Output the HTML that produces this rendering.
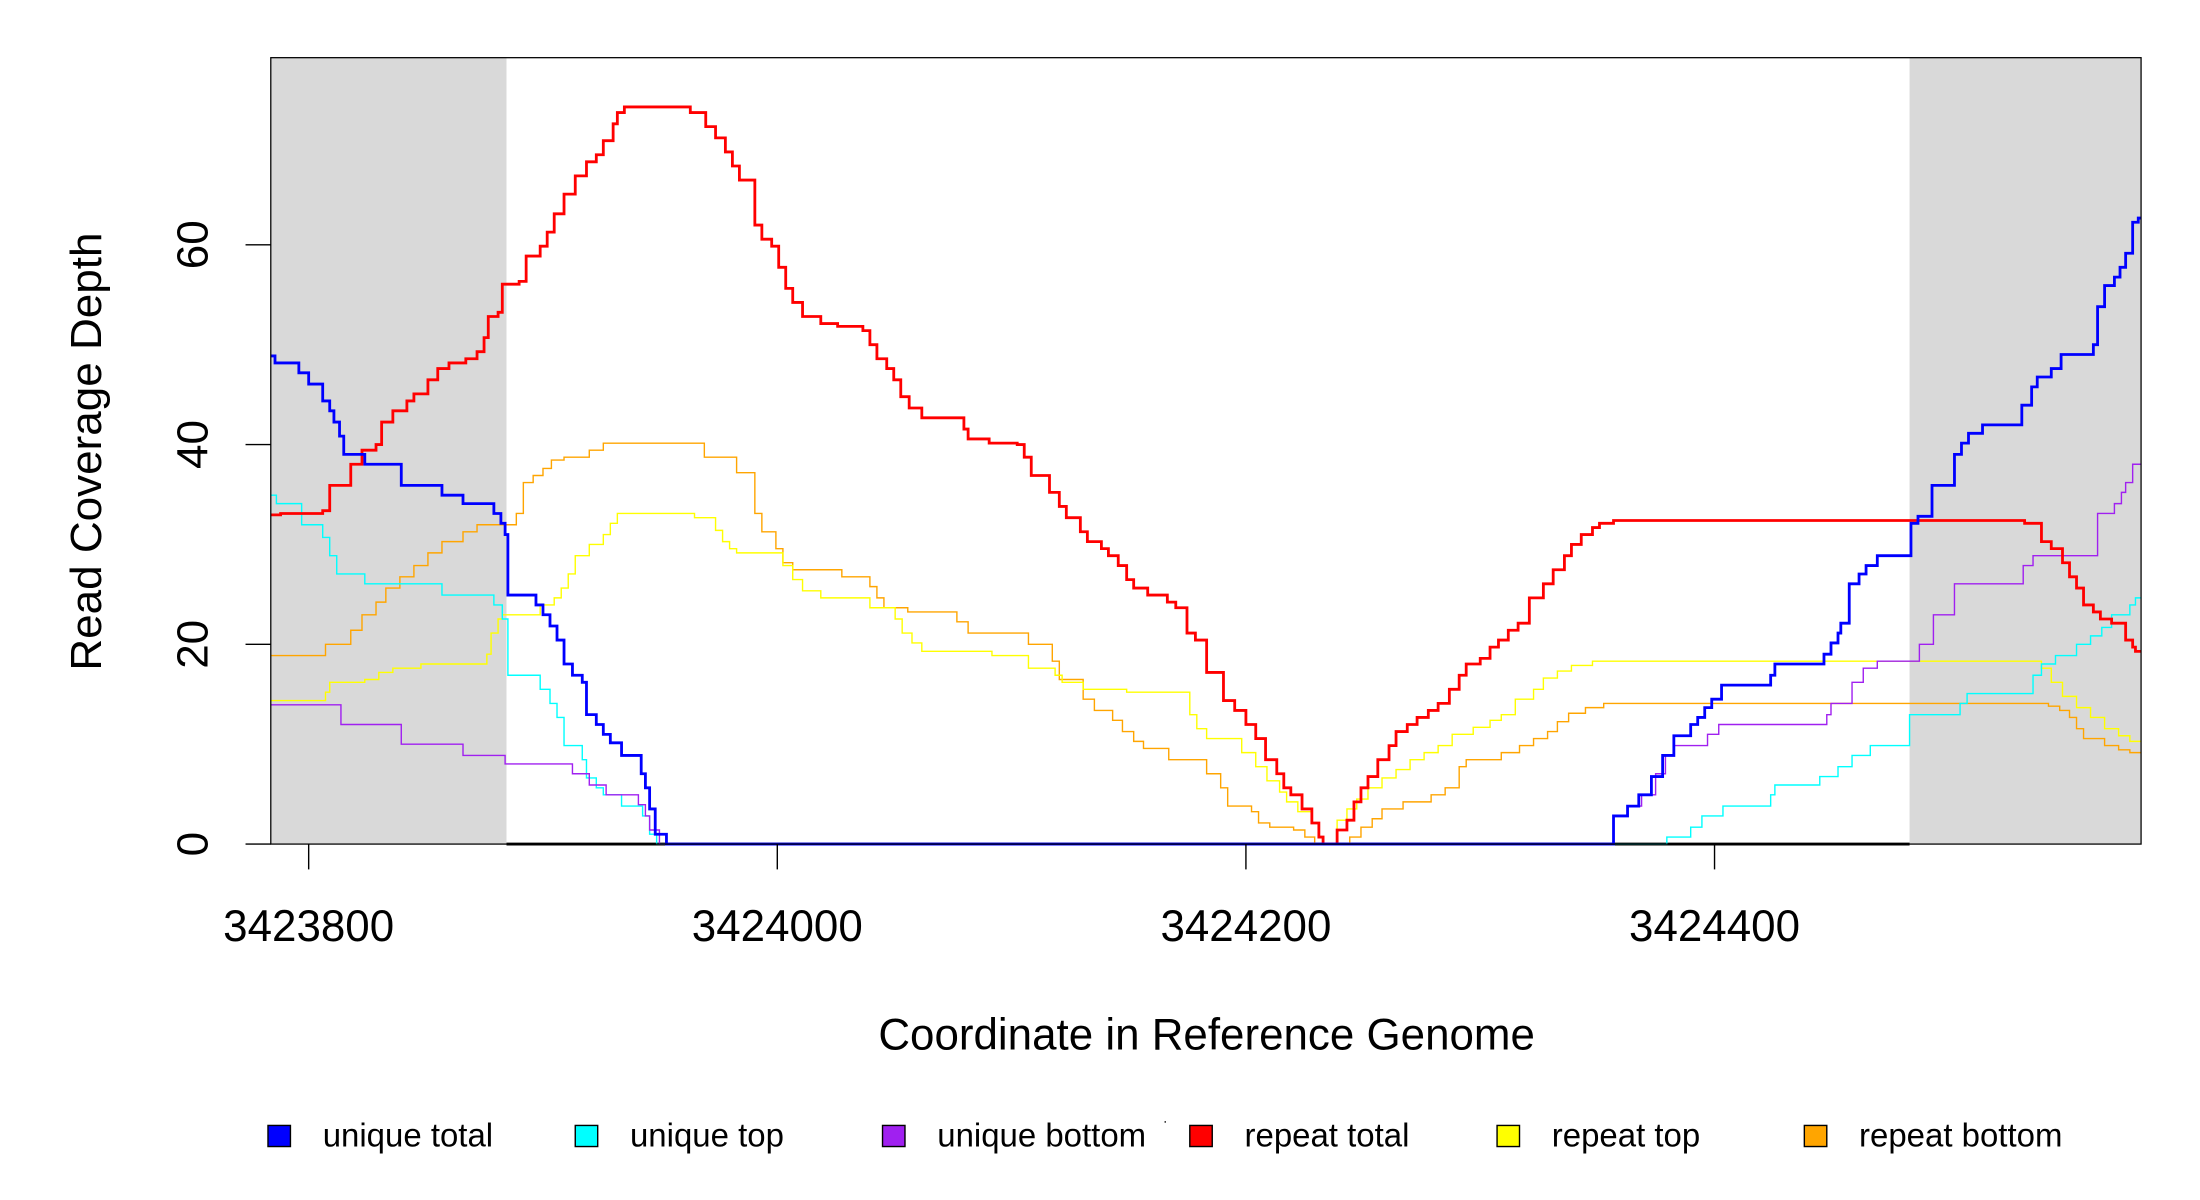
<!DOCTYPE html>
<html><head><meta charset="utf-8"><style>
html,body{margin:0;padding:0;background:#fff;}
svg{display:block;font-family:"Liberation Sans",sans-serif;}
</style></head><body>
<svg id="s" width="2200" height="1200" viewBox="0 0 1568 853" preserveAspectRatio="none" xmlns="http://www.w3.org/2000/svg">
<rect x="193" y="41" width="168" height="559" fill="#d9d9d9"/>
<rect x="1361" y="41" width="165" height="559" fill="#d9d9d9"/>
<line x1="361" y1="600" x2="1361" y2="600" stroke="#000" stroke-width="2"/>
<g id="series" fill="none" stroke-linejoin="miter"></g>
<rect x="193" y="41" width="1333" height="559" fill="none" stroke="#000" stroke-width="0.9"/>
<g stroke="#000" stroke-width="1">
<line x1="175" y1="600" x2="193" y2="600"/><line x1="175" y1="458" x2="193" y2="458"/>
<line x1="175" y1="316" x2="193" y2="316"/><line x1="175" y1="174" x2="193" y2="174"/>
<line x1="220" y1="600" x2="220" y2="618"/><line x1="554" y1="600" x2="554" y2="618"/>
<line x1="888" y1="600" x2="888" y2="618"/><line x1="1222" y1="600" x2="1222" y2="618"/>
</g>
<g font-size="31.3" text-anchor="middle" fill="#000">
<text transform="translate(148,600) rotate(-90)">0</text>
<text transform="translate(148,458) rotate(-90)">20</text>
<text transform="translate(148,316) rotate(-90)">40</text>
<text transform="translate(148,174) rotate(-90)">60</text>
<text x="220" y="669">3423800</text>
<text x="554" y="669">3424000</text>
<text x="888" y="669">3424200</text>
<text x="1222" y="669">3424400</text>
<text transform="translate(72,321) rotate(-90)">Read Coverage Depth</text>
<text x="860" y="746">Coordinate in Reference Genome</text>
</g>
<g font-size="23.5" fill="#000" stroke="#000" stroke-width="1">
<rect x="191" y="800" width="16" height="15" fill="#0000ff"/><text x="230" y="815" stroke="none">unique total</text>
<rect x="410" y="800" width="16" height="15" fill="#00ffff"/><text x="449" y="815" stroke="none">unique top</text>
<rect x="629" y="800" width="16" height="15" fill="#a020f0"/><text x="668" y="815" stroke="none">unique bottom</text>
<rect x="848" y="800" width="16" height="15" fill="#ff0000"/><text x="887" y="815" stroke="none">repeat total</text>
<rect x="1067" y="800" width="16" height="15" fill="#ffff00"/><text x="1106" y="815" stroke="none">repeat top</text>
<rect x="1286" y="800" width="16" height="15" fill="#ffa500"/><text x="1325" y="815" stroke="none">repeat bottom</text>
</g>
<rect x="830" y="797" width="1" height="1" fill="#000"/>
</svg>
<script>
var S={
orange:[["#ffa500",1],[193,466],[232,458],[250,448],[258,437],[268,428],[275,418],[285,410],[295,402],[305,393],[315,385],[330,378],[340,373],[368,365],[373,343],[380,338],[387,333],[393,327],[402,325],[420,320],[430,315],[502,325],[525,336],[538,365],[543,378],[553,390],[558,400],[565,405],[600,410],[620,417],[625,425],[630,432],[647,435],[682,442],[690,450],[733,458],[750,470],[755,483],[772,497],[780,505],[793,512],[800,520],[808,527],[815,532],[833,540],[860,550],[870,560],[875,573],[892,577],[897,585],[905,588],[922,590],[930,595],[937,600],[962,595],[970,588],[978,582],[985,575],[1000,570],[1020,565],[1030,560],[1040,545],[1045,540],[1070,535],[1083,530],[1093,525],[1103,520],[1110,513],[1118,507],[1130,503],[1143,500],[1460,502],[1468,505],[1475,510],[1480,518],[1485,525],[1500,530],[1510,533],[1518,535],[1526,535]],
yellow:[["#ffff00",1],[193,498],[232,492],[235,485],[260,483],[270,478],[280,475],[300,472],[347,465],[350,450],[355,440],[358,437],[385,430],[395,425],[400,418],[405,408],[410,395],[420,387],[430,380],[435,372],[440,365],[495,368],[510,377],[515,385],[520,390],[525,393],[558,402],[565,412],[572,420],[585,425],[620,432],[638,440],[643,450],[650,457],[657,463],[707,466],[733,475],[752,480],[757,485],[772,490],[803,492],[848,508],[853,518],[860,525],[885,535],[895,545],[903,555],[912,563],[917,570],[925,577],[935,585],[940,595],[943,600],[953,583],[960,575],[967,568],[975,560],[985,553],[995,547],[1005,540],[1015,535],[1025,530],[1035,522],[1050,517],[1062,512],[1070,508],[1080,497],[1093,490],[1100,482],[1110,477],[1120,473],[1135,470],[1455,475],[1462,485],[1470,495],[1480,503],[1490,510],[1500,518],[1510,523],[1518,527],[1526,527]],
cyan:[["#00ffff",1],[193,352],[197,358],[215,373],[230,382],[235,395],[240,408],[260,415],[315,423],[352,430],[358,440],[362,480],[385,490],[392,500],[397,510],[402,530],[415,540],[418,553],[425,560],[430,565],[443,573],[458,580],[463,593],[468,600],[1188,595],[1205,588],[1213,580],[1228,573],[1262,565],[1265,558],[1297,552],[1310,545],[1320,537],[1333,530],[1361,508],[1397,500],[1402,493],[1449,480],[1455,472],[1465,466],[1480,458],[1490,452],[1498,446],[1505,437],[1518,430],[1522,425],[1526,425]],
purple:[["#a020f0",1],[193,501],[243,515],[286,529],[330,537],[360,543],[408,550],[420,558],[432,565],[455,572],[460,580],[463,590],[470,600],[1150,580],[1160,573],[1170,565],[1180,550],[1187,537],[1193,530],[1217,522],[1225,515],[1302,508],[1305,500],[1320,485],[1328,475],[1338,470],[1368,458],[1378,437],[1393,415],[1442,402],[1449,395],[1495,365],[1507,358],[1512,350],[1515,343],[1520,330],[1526,330]],
red:[["#ff0000",2],[193,366],[200,365],[230,363],[235,345],[250,330],[258,320],[268,316],[272,300],[280,292],[290,285],[295,280],[305,270],[312,262],[320,258],[332,255],[340,250],[345,240],[348,225],[355,222],[358,202],[370,200],[375,182],[385,175],[390,165],[395,152],[402,138],[410,125],[418,115],[425,110],[430,100],[437,88],[440,80],[445,76],[492,80],[503,90],[510,98],[517,108],[522,118],[527,128],[538,160],[543,170],[550,175],[555,190],[560,205],[565,215],[572,225],[585,230],[597,232],[615,235],[620,245],[625,255],[632,262],[637,270],[642,282],[648,290],[657,297],[687,305],[690,312],[705,315],[725,316],[730,325],[735,338],[748,350],[755,360],[760,368],[770,378],[775,385],[785,390],[790,395],[797,402],[803,412],[808,418],[818,423],[832,428],[838,432],[846,450],[852,455],[860,478],[872,498],[880,505],[888,515],[895,525],[902,540],[910,550],[915,560],[920,565],[928,575],[935,585],[940,595],[943,600],[953,590],[960,583],[965,570],[970,560],[975,552],[982,540],[990,530],[995,520],[1003,515],[1010,510],[1018,505],[1025,500],[1033,490],[1040,480],[1045,472],[1055,468],[1062,460],[1068,455],[1075,448],[1082,443],[1090,425],[1100,415],[1107,405],[1115,395],[1120,387],[1127,380],[1135,375],[1140,372],[1150,370],[1443,372],[1455,385],[1462,390],[1470,400],[1475,410],[1480,418],[1485,430],[1492,435],[1497,440],[1505,443],[1515,455],[1520,460],[1522,463],[1526,463]],
blue:[["#0000ff",2],[193,253],[196,258],[213,265],[220,273],[230,285],[235,292],[238,300],[242,310],[245,323],[260,330],[286,345],[315,352],[330,358],[352,365],[357,372],[360,380],[362,423],[382,430],[387,437],[392,445],[397,455],[402,472],[408,480],[415,485],[418,508],[425,515],[430,522],[435,528],[443,537],[457,550],[460,560],[463,575],[467,593],[475,600],[1150,580],[1160,573],[1168,565],[1177,552],[1185,537],[1193,523],[1205,515],[1210,510],[1215,503],[1220,497],[1227,487],[1262,480],[1265,472],[1300,465],[1305,457],[1310,450],[1312,443],[1318,415],[1325,408],[1330,402],[1338,395],[1362,372],[1367,367],[1377,345],[1393,323],[1398,315],[1403,308],[1413,302],[1441,288],[1448,275],[1452,268],[1462,262],[1469,252],[1492,245],[1495,218],[1500,203],[1507,197],[1511,190],[1515,180],[1520,158],[1524,155],[1526,155]]
};
var g=document.getElementById('series'),ns='http://www.w3.org/2000/svg';
['orange','yellow','cyan','purple','red','blue'].forEach(function(k){
 var a=S[k],d='M'+a[1][0]+' '+a[1][1];
 for(var i=2;i<a.length;i++){d+=' H'+a[i][0]+' V'+a[i][1];}
 var p=document.createElementNS(ns,'path');p.setAttribute('d',d);
 p.setAttribute('stroke',a[0][0]);p.setAttribute('stroke-width',a[0][1]);g.appendChild(p);
});
</script>
</body></html>
